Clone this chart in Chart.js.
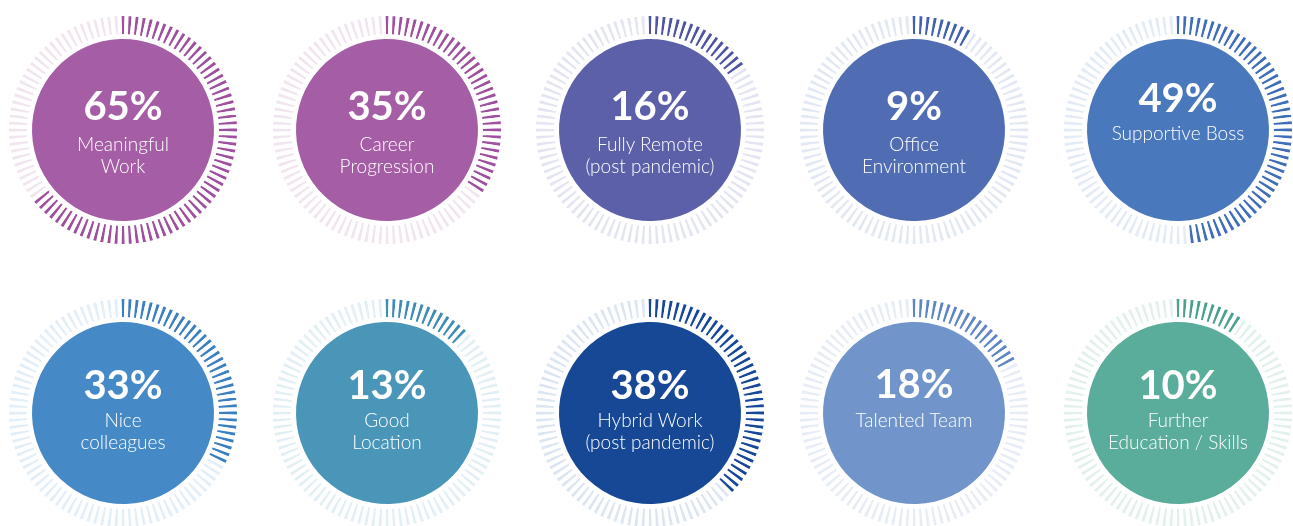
<!DOCTYPE html>
<html>
<head>
<meta charset="utf-8">
<script src="https://cdn.jsdelivr.net/npm/chart.js@4.4.0/dist/chart.umd.min.js"></script>
<style>
body{margin:0;background:#fff;width:1293px;height:526px;overflow:hidden;font-family:Lato,"Open Sans",sans-serif;}
.gauge{position:absolute;width:236px;height:236px;}
.gauge canvas{position:absolute;left:0;top:0;}
.pct,.lbl{position:absolute;left:0;width:236px;text-align:center;color:#fff;white-space:nowrap;}
.pct{font-size:40px;font-weight:700;line-height:40px;height:40px;}
.lbl{font-size:19px;font-weight:300;line-height:22px;height:22px;}
</style>
</head>
<body>
<script>
// categories and their share (%)
const categories = [
    ['Meaningful', 'Work'],
    ['Career', 'Progression'],
    ['Fully Remote', '(post pandemic)'],
    ['Office', 'Environment'],
    ['Supportive Boss'],
    ['Nice', 'colleagues'],
    ['Good', 'Location'],
    ['Hybrid Work', '(post pandemic)'],
    ['Talented Team'],
    ['Further', 'Education / Skills']
];
const percents = [65, 35, 16, 9, 49, 33, 13, 38, 18, 10];
const tickCount = 100;

// disc colour, filled tick colour, empty tick colour
const palette = [
    ['#a55ea5', '#9e4f9d', '#f1e5f0'],
    ['#a55ea5', '#9e4f9d', '#f1e5f0'],
    ['#5b60a9', '#4e54a2', '#e4e5f2'],
    ['#506db4', '#4161ae', '#e2e8f4'],
    ['#4a78bd', '#3f6db8', '#e3ebf6'],
    ['#4589c7', '#3a7fc2', '#e2eef8'],
    ['#4a96b9', '#3e8db3', '#e2f0f5'],
    ['#164896', '#17479a', '#dce5f2'],
    ['#7195ca', '#5f86c4', '#e7edf6'],
    ['#5aac9b', '#4ba190', '#e2f1ee']
];

const colX = [123, 387, 650, 914, 1178];
const rowY = [130, 413];
const SIZE = 236;

// text offsets from the centre, per row: [pct, line1, line2] / [pct, line1] for single line
const textPos = [
    { two: [-25, 14, 36], one: [-33, 3] },
    { two: [-29, 7, 29], one: [-30, 7] }
];

percents.forEach((pct, i) => {
    const row = Math.floor(i / 5);
    const cx = colX[i % 5];
    const cy = rowY[row];
    const [disc, fill, empty] = palette[i];

    const box = document.createElement('div');
    box.className = 'gauge';
    box.style.left = (cx - SIZE / 2) + 'px';
    box.style.top = (cy - SIZE / 2) + 'px';
    const canvas = document.createElement('canvas');
    canvas.width = SIZE;
    canvas.height = SIZE;
    box.appendChild(canvas);
    document.body.appendChild(box);

    const tickColors = [];
    for (let t = 0; t < tickCount; t++) tickColors.push(t < pct ? fill : empty);

    new Chart(canvas, {
        type: 'doughnut',
        data: {
            labels: tickColors.map((c, t) => t),
            datasets: [
                {   // tick ring
                    data: new Array(tickCount).fill(1),
                    backgroundColor: tickColors,
                    borderColor: '#ffffff',
                    borderWidth: 4,
                    weight: 22
                },
                {   // white gap
                    data: [1],
                    backgroundColor: 'rgba(0,0,0,0)',
                    borderWidth: 0,
                    weight: 3
                },
                {   // centre disc
                    data: [1],
                    backgroundColor: disc,
                    borderWidth: 0,
                    weight: 91
                }
            ]
        },
        options: {
            responsive: false,
            animation: false,
            events: [],
            cutout: 0,
            rotation: -1.8,
            layout: { padding: 0 },
            plugins: { legend: { display: false }, tooltip: { enabled: false } }
        }
    });

    const lines = categories[i];
    const pos = lines.length > 1 ? textPos[row].two : textPos[row].one;
    const p = document.createElement('div');
    p.className = 'pct';
    p.textContent = pct + '%';
    p.style.top = (SIZE / 2 + pos[0] - 20) + 'px';
    box.appendChild(p);
    lines.forEach((txt, k) => {
        const l = document.createElement('div');
        l.className = 'lbl';
        l.textContent = txt;
        l.style.top = (SIZE / 2 + pos[k + 1] - 11) + 'px';
        box.appendChild(l);
    });
});
</script>
</body>
</html>
